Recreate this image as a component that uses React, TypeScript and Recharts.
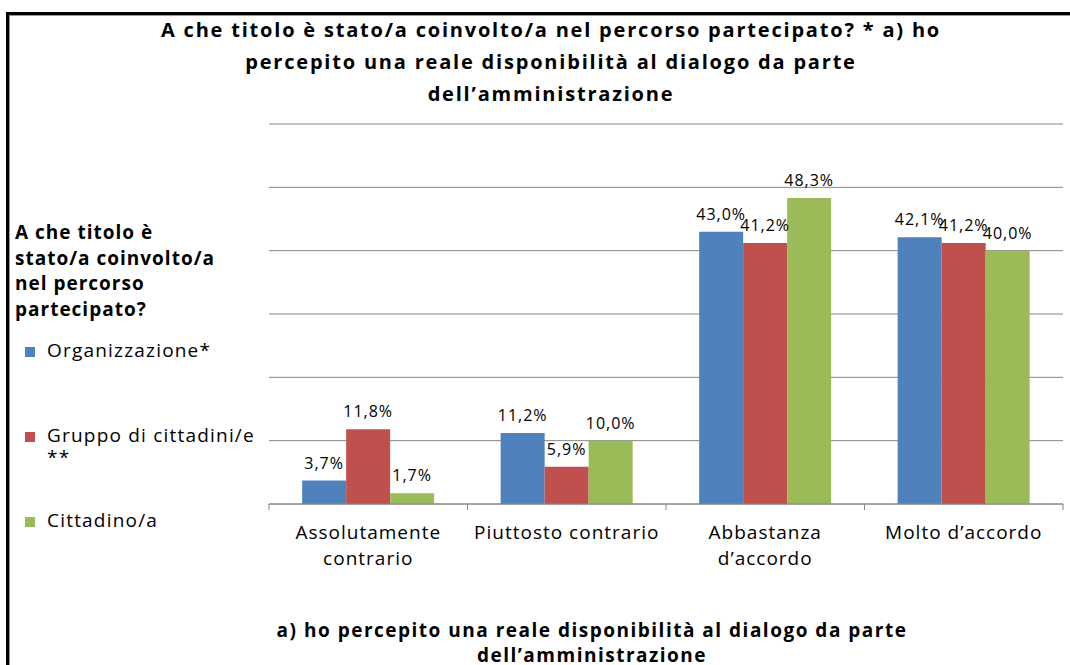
import React from 'react';
import { BarChart, Bar, XAxis, YAxis, CartesianGrid, LabelList } from 'recharts';

// categories (line breaks as in the original axis labels)
const categories = ['Assolutamente\ncontrario', 'Piuttosto contrario', 'Abbastanza\nd’accordo', 'Molto d’accordo'];

// percent values per series
const organizzazione = [3.7, 11.2, 43.0, 42.1];
const gruppoCittadini = [11.8, 5.9, 41.2, 41.2];
const cittadino = [1.7, 10.0, 48.3, 40.0];

const yTicks = [0, 10, 20, 30, 40, 50, 60];

const seriesNames = ['Organizzazione*', 'Gruppo di cittadini/e\n**', 'Cittadino/a'];
const seriesKeys = ['org', 'grp', 'cit'];
const seriesColors = ['#4F81BD', '#C0504D', '#9BBB59'];

const titleText =
  'A che titolo è stato/a coinvolto/a nel percorso partecipato? * a) ho\npercepito una reale disponibilità al dialogo da parte\ndell’amministrazione';
const legendTitle = 'A che titolo è\nstato/a coinvolto/a\nnel percorso\npartecipato?';
const axisTitle = 'a) ho percepito una reale disponibilità al dialogo da parte\ndell’amministrazione';

const W = 1070;
const H = 665;
const PLOT_LEFT = 269;
const PLOT_RIGHT = 1063;
const PLOT_TOP = 124;
const PLOT_BOTTOM = 504;
const X_AXIS_H = 60;

const font = '"Open Sans", sans-serif';
const gridColor = '#868686';

const fmt = (v: any) => `${Number(v).toFixed(1).replace('.', ',')}%`;

const CategoryTick = (props: any) => {
  const { x, y, payload, index } = props;
  const step = (PLOT_RIGHT - PLOT_LEFT) / categories.length;
  const lines = String(payload.value).split('\n');
  return (
    <g>
      <line x1={x - step / 2} x2={x - step / 2} y1={y} y2={y + 6} stroke={gridColor} />
      {index === categories.length - 1 && (
        <line x1={x + step / 2} x2={x + step / 2} y1={y} y2={y + 6} stroke={gridColor} />
      )}
      {lines.map((l, i) => (
        <text
          key={i}
          x={x}
          y={y + 35 + i * 26}
          textAnchor="middle"
          fill="#000"
          fontSize={19}
          fontFamily={font}
          style={{ letterSpacing: '1px' }}
        >
          {l}
        </text>
      ))}
    </g>
  );
};

export default function App() {
  const data = categories.map((name, i) => ({
    name,
    org: organizzazione[i],
    grp: gruppoCittadini[i],
    cit: cittadino[i],
  }));

  return (
    <div style={{ position: 'absolute', left: 0, top: 0, width: W, height: H, background: '#fff', overflow: 'hidden' }}>
      {/* frame */}
      <div
        style={{
          position: 'absolute',
          left: 6,
          top: 12,
          width: 1200,
          height: 800,
          borderLeft: '3px solid #000',
          borderTop: '3px solid #000',
          boxShadow: '1px 1px 0 #999 inset',
        }}
      />

      <div
        style={{
          position: 'absolute',
          left: 151,
          top: 14,
          width: 800,
          textAlign: 'center',
          whiteSpace: 'pre-line',
          fontFamily: font,
          fontWeight: 700,
          fontSize: 20,
          letterSpacing: '1.8px',
          lineHeight: '32px',
          color: '#000',
        }}
      >
        {titleText}
      </div>

      <div style={{ position: 'absolute', left: 0, top: 0 }}>
        <BarChart
          width={W}
          height={H}
          data={data}
          margin={{ top: PLOT_TOP, right: W - PLOT_RIGHT, bottom: H - PLOT_BOTTOM - X_AXIS_H, left: PLOT_LEFT }}
          barGap={0}
          barCategoryGap="16.7%"
        >
          <CartesianGrid vertical={false} stroke={gridColor} />
          <XAxis
            dataKey="name"
            height={X_AXIS_H}
            interval={0}
            tickSize={0}
            tickMargin={0}
            tickLine={false}
            axisLine={{ stroke: gridColor }}
            tick={<CategoryTick />}
          />
          <YAxis
            width={0}
            domain={[0, 60]}
            ticks={yTicks}
            tickFormatter={() => ''}
            axisLine={false}
            tickLine={false}
          />
          {seriesKeys.map((k, i) => (
            <Bar key={k} dataKey={k} name={seriesNames[i]} fill={seriesColors[i]} isAnimationActive={false}>
              <LabelList
                dataKey={k}
                position="top"
                offset={12}
                formatter={fmt}
                fill="#000"
                fontSize={16}
                fontFamily={font}
                style={{ letterSpacing: '1px' }}
              />
            </Bar>
          ))}
        </BarChart>
      </div>

      {/* legend */}
      <div
        style={{
          position: 'absolute',
          left: 15,
          top: 220,
          whiteSpace: 'pre-line',
          fontFamily: font,
          fontWeight: 700,
          fontSize: 19,
          letterSpacing: '1px',
          lineHeight: '25.7px',
          color: '#000',
        }}
      >
        {legendTitle}
      </div>
      {seriesNames.map((n, i) => (
        <div
          key={n}
          style={{
            position: 'absolute',
            left: 25,
            top: 339 + i * 85,
            display: 'flex',
            alignItems: 'flex-start',
            fontFamily: font,
            fontSize: 19,
            letterSpacing: '1.2px',
            lineHeight: '22px',
            color: '#000',
          }}
        >
          <span
            style={{ display: 'inline-block', width: 10, height: 10, background: seriesColors[i], marginTop: 8, marginRight: 12 }}
          />
          <span style={{ whiteSpace: 'pre-line' }}>{n}</span>
        </div>
      ))}

      <div
        style={{
          position: 'absolute',
          left: 192,
          top: 618,
          width: 800,
          textAlign: 'center',
          whiteSpace: 'pre-line',
          fontFamily: font,
          fontWeight: 700,
          fontSize: 19,
          letterSpacing: '1.5px',
          lineHeight: '25px',
          color: '#000',
        }}
      >
        {axisTitle}
      </div>
    </div>
  );
}
